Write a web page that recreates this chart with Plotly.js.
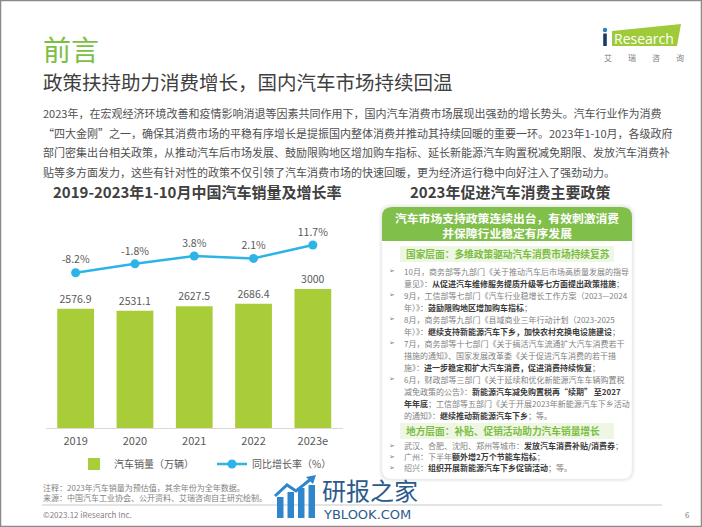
<!DOCTYPE html>
<html>
<head>
<meta charset="utf-8">
<script src="https://cdn.plot.ly/plotly-3.0.1.min.js"></script>
<style>
html,body{margin:0;padding:0;background:#fff;}
#chart{width:702px;height:527px;}
</style>
</head>
<body>
<div id="chart"></div>
<script>
// ---------- data ----------
const years = ['2019', '2020', '2021', '2022', '2023e'];
const sales = [2576.9, 2531.1, 2627.5, 2686.4, 3000];
const growth = [-8.2, -1.8, 3.8, 2.1, 11.7];
const salesName = '汽车销量（万辆）';
const growthName = '同比增长率（%）';

const pageTitle = '前言';
const pageSubtitle = '政策扶持助力消费增长，国内汽车市场持续回温';
const introLines = [
  '2023年，在宏观经济环境改善和疫情影响消退等因素共同作用下，国内汽车消费市场展现出强劲的增长势头。汽车行业作为消费',
  '“四大金刚”之一，确保其消费市场的平稳有序增长是提振国内整体消费并推动其持续回暖的重要一环。2023年1-10月，各级政府',
  '部门密集出台相关政策，从推动汽车后市场发展、鼓励限购地区增加购车指标、延长新能源汽车购置税减免期限、发放汽车消费补',
  '贴等多方面发力，这些有针对性的政策不仅引领了汽车消费市场的快速回暖，更为经济运行稳中向好注入了强劲动力。'
];
const chartTitle = '2019-2023年1-10月中国汽车销量及增长率';
const policyTitle = '2023年促进汽车消费主要政策';
const policyHeader = ['汽车市场支持政策连续出台，有效刺激消费', '并保障行业稳定有序发展'];
const nationalTitle = '国家层面：多维政策驱动汽车消费市场持续复苏';
const nationalLines = [
  ['➢', '10月，商务部等九部门《关于推动汽车后市场高质量发展的指导'],
  ['', '意见》：**从促进汽车维修服务提质升级等七方面提出政策措施**；'],
  ['➢', '9月，工信部等七部门《汽车行业稳增长工作方案（2023—2024'],
  ['', '年）》：**鼓励限购地区增加购车指标**；'],
  ['➢', '8月，商务部等九部门《县域商业三年行动计划（2023-2025'],
  ['', '年）》：**继续支持新能源汽车下乡，加快农村充换电设施建设**；'],
  ['➢', '7月，商务部等十七部门《关于搞活汽车流通扩大汽车消费若干'],
  ['', '措施的通知》、国家发展改革委《关于促进汽车消费的若干措'],
  ['', '施》：**进一步稳定和扩大汽车消费，促进消费持续恢复**；'],
  ['➢', '6月，财政部等三部门《关于延续和优化新能源汽车车辆购置税'],
  ['', '减免政策的公告》：**新能源汽车减免购置税再“续期” 至2027**'],
  ['', '**年年底**；工信部等五部门《关于开展2023年新能源汽车下乡活动'],
  ['', '的通知》：**继续推动新能源汽车下乡**；等。']
];
const localTitle = '地方层面：补贴、促销活动助力汽车销量增长';
const localLines = [
  ['➢', '武汉、合肥、沈阳、郑州等城市：**发放汽车消费补贴/消费券**；'],
  ['➢', '广州：下半年**额外增2万个节能车指标**；'],
  ['➢', '绍兴：**组织开展新能源汽车下乡促销活动**；等。']
];
const notes = ['注释：2023年汽车销量为预估值，其余年份为全年数据。', '来源：中国汽车工业协会、公开资料、艾瑞咨询自主研究绘制。'];
const copyright = '©2023.12 iResearch Inc.';
const pageNo = '6';

// ---------- helpers ----------
const W = 702, H = 527;
const X = p => p / W;
const Y = p => 1 - p / H;
const FONT = '"Noto Sans CJK SC", "Noto Sans", "DejaVu Sans", sans-serif';
const GREEN = '#7cc043';
const BAR = '#a9cc39';
const LINE = '#2db4e7';
const annotations = [];
const shapes = [];

function txt(text, x, y, size, color, xanchor, extra) {
  annotations.push(Object.assign({
    text: text, x: X(x), y: Y(y), xref: 'paper', yref: 'paper',
    showarrow: false, xanchor: xanchor || 'left', yanchor: 'middle',
    borderpad: 0, font: {family: FONT, size: size, color: color}
  }, extra || {}));
}
function rich(s) {
  return s.replace(/\*\*(.+?)\*\*/g, '<b><span style="color:#3b3b3b">$1</span></b>');
}
function rr(x0, y0, x1, y1, r, bottomRound) {
  let p = `M${X(x0 + r)},${Y(y0)} L${X(x1 - r)},${Y(y0)} Q${X(x1)},${Y(y0)} ${X(x1)},${Y(y0 + r)}`;
  if (bottomRound) {
    p += ` L${X(x1)},${Y(y1 - r)} Q${X(x1)},${Y(y1)} ${X(x1 - r)},${Y(y1)} L${X(x0 + r)},${Y(y1)} Q${X(x0)},${Y(y1)} ${X(x0)},${Y(y1 - r)}`;
  } else {
    p += ` L${X(x1)},${Y(y1)} L${X(x0)},${Y(y1)}`;
  }
  p += ` L${X(x0)},${Y(y0 + r)} Q${X(x0)},${Y(y0)} ${X(x0 + r)},${Y(y0)} Z`;
  return p;
}
function pathShape(d, fill, line, lw) {
  shapes.push({type: 'path', xref: 'paper', yref: 'paper', path: d, fillcolor: fill,
    line: {color: line || 'rgba(0,0,0,0)', width: lw || 0}});
}
function rect(x0, y0, x1, y1, fill, line, lw) {
  shapes.push({type: 'rect', xref: 'paper', yref: 'paper', x0: X(x0), x1: X(x1), y0: Y(y0), y1: Y(y1),
    fillcolor: fill, line: {color: line || 'rgba(0,0,0,0)', width: lw || 0}});
}
function lineSeg(x0, y0, x1, y1, color, w) {
  shapes.push({type: 'line', xref: 'paper', yref: 'paper', x0: X(x0), x1: X(x1), y0: Y(y0), y1: Y(y1),
    line: {color: color, width: w}});
}

// ---------- page frame & header ----------
rect(0.5, 0.5, 701.5, 526.5, 'rgba(0,0,0,0)', '#8a8a8a', 1.5);
txt(pageTitle, 42, 49, 28, GREEN);
txt(pageSubtitle, 42, 81, 19.5, '#404040');

// iResearch logo
pathShape(`M${X(612)},${Y(31)} L${X(681)},${Y(24)} L${X(677)},${Y(46)} L${X(612)},${Y(46)} Z`, '#9fcb3a');
rect(603.2, 33.5, 606.8, 46, '#1b3a6a');
shapes.push({type: 'circle', xref: 'paper', yref: 'paper', x0: X(602.8), x1: X(607.2), y0: Y(27.8), y1: Y(32.2),
  fillcolor: '#2a7fc1', line: {width: 0}});
txt('Research', 613, 38.5, 14, '#ffffff', 'left', {font: {family: '"Open Sans", sans-serif', size: 14, color: '#ffffff'}});
['艾', '瑞', '咨', '询'].forEach((c, i) => txt(c, 608 + i * 24, 57, 8, '#808080', 'center'));

// intro paragraph
introLines.forEach((l, i) => txt(l, 42, 113 + i * 19.5, 11, '#505050'));

// ---------- left chart title ----------
txt('<b>' + chartTitle + '</b>', 197, 191, 15, '#404040', 'center');

// ---------- right panel ----------
txt('<b>' + policyTitle + '</b>', 510, 191, 15, '#404040', 'center');
pathShape(rr(379, 204, 635, 482, 12, true), 'rgba(0,0,0,0.03)');
pathShape(rr(380.5, 205.5, 633.5, 480.5, 11, true), 'rgba(0,0,0,0.04)');
pathShape(rr(382, 207, 632, 479, 10, true), '#ffffff', '#eeeeee', 0.5);
pathShape(rr(382, 207, 632, 241, 10, false), '#80c04a');
txt('<b>' + policyHeader[0] + '<br>' + policyHeader[1] + '</b>', 507, 225, 11.8, '#ffffff', 'center', {align: 'center'});

rect(400, 246, 614, 262, '#eef6e4');
txt('<b>' + nationalTitle + '</b>', 405, 254, 9.7, '#7cbd42');
const lh = 12;
nationalLines.forEach((l, i) => {
  const y = 271 + i * lh;
  if (l[0]) txt(l[0], 392, y, 7, '#808080', 'center', {font: {family: '"DejaVu Sans", sans-serif', size: 7, color: '#808080'}});
  txt(rich(l[1]), 403, y, 8, '#7f7f7f');
});
rect(400, 423, 614, 439, '#eef6e4');
txt('<b>' + localTitle + '</b>', 405, 431, 9.7, '#7cbd42');
localLines.forEach((l, i) => {
  const y = 445.5 + i * 11;
  txt(l[0], 392, y, 7, '#808080', 'center', {font: {family: '"DejaVu Sans", sans-serif', size: 7, color: '#808080'}});
  txt(rich(l[1]), 403, y, 8, '#7f7f7f');
});

// ---------- footer ----------
txt(notes[0], 42, 487, 8, '#7f7f7f');
txt(notes[1], 42, 497, 8, '#7f7f7f');
lineSeg(42, 505, 662, 505, '#c8c8c8', 1);
txt(copyright, 42, 514, 8, '#7f7f7f');
txt(pageNo, 687, 514, 8, '#7f7f7f', 'center');

// watermark
[[277, 497], [287.5, 492], [298, 488], [308.5, 485]].forEach(b => rect(b[0], b[1], b[0] + 6.5, 518, '#2f86cc'));
pathShape(`M${X(275)},${Y(496)} L${X(287)},${Y(485)} L${X(296)},${Y(491)} L${X(311)},${Y(479)}`, 'rgba(0,0,0,0)', '#2f86cc', 3);
pathShape(`M${X(316)},${Y(475)} L${X(306)},${Y(477)} L${X(313)},${Y(484)} Z`, '#2f86cc');
txt('研报之家', 321, 489.8, 24, '#2b5a8b');
txt('YBLOOK.COM', 322, 514.6, 13, '#2b5a8b', 'left', {font: {family: '"DejaVu Sans", sans-serif', size: 13, color: '#2b5a8b'}});

// ---------- traces ----------
const traces = [
  {
    type: 'bar', x: years, y: sales, name: salesName,
    marker: {color: BAR}, text: sales.map(v => String(v)), textposition: 'outside',
    textfont: {family: FONT, size: 10.5, color: '#595959'}, cliponaxis: false,
    hoverinfo: 'skip'
  },
  {
    type: 'scatter', mode: 'lines+markers+text', x: years, y: growth, yaxis: 'y2', name: growthName,
    line: {color: LINE, width: 2.5}, marker: {color: LINE, size: 9},
    text: growth.map(v => v.toFixed(1) + '%'), textposition: 'top center',
    textfont: {family: FONT, size: 10.5, color: '#595959'}, cliponaxis: false,
    hoverinfo: 'skip'
  }
];

const layout = {
  width: W, height: H,
  margin: {l: 0, r: 0, t: 0, b: 0},
  paper_bgcolor: '#ffffff', plot_bgcolor: 'rgba(0,0,0,0)',
  font: {family: FONT, color: '#595959'},
  bargap: 0.38,
  showlegend: true,
  legend: {
    orientation: 'h', x: X(74), y: Y(464), xanchor: 'left', yanchor: 'middle',
    font: {family: FONT, size: 10, color: '#595959'}, bgcolor: 'rgba(0,0,0,0)',
    itemwidth: 30, entrywidth: 93, tracegroupgap: 0
  },
  xaxis: {
    domain: [X(46), X(342.5)], type: 'category', showline: true, linecolor: '#d9d9d9', linewidth: 1,
    ticks: '', showgrid: false, zeroline: false, fixedrange: true,
    tickfont: {family: FONT, size: 11, color: '#595959'}, ticklabelstandoff: 3
  },
  yaxis: {
    domain: [Y(428), Y(200)], range: [0, 4925], showgrid: false, zeroline: false,
    showticklabels: false, showline: false, ticks: '', fixedrange: true
  },
  yaxis2: {
    overlaying: 'y', side: 'right', range: [-119.9, 44.1], showgrid: false, zeroline: false,
    showticklabels: false, showline: false, ticks: '', fixedrange: true
  },
  shapes: shapes,
  annotations: annotations
};

Plotly.newPlot('chart', traces, layout, {displayModeBar: false, staticPlot: true});
</script>
</body>
</html>
